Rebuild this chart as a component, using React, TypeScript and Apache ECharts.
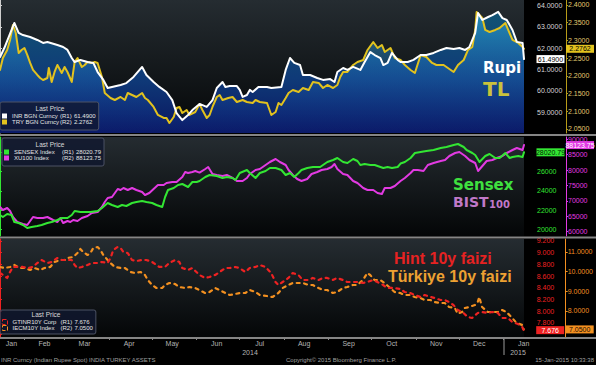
import React, { useEffect, useRef } from "react";
import * as echarts from "echarts";

// ---------- axis data ----------
const monthNames = ["Jan", "Feb", "Mar", "Apr", "May", "Jun", "Jul", "Aug", "Sep", "Oct", "Nov", "Dec", "Jan"];
// days since 15-Jan-2014
const monthLabelDays = [8, 31, 59, 90, 120, 151, 181, 212, 243, 273, 304, 334, 365];
const monthStartDays = [17, 45, 76, 106, 137, 167, 198, 229, 259, 290, 320, 351];

// ---------- panel 1 : INR / TRY ----------
const inrDays = [0,3,10,13,16,21,26,30,33,40,44,47,50,52,56,61,65,68,72,75,78,84,88,93,99,102,107,111,116,120,123,127,131,134,139,144,148,151,155,157,160,165,167,169,172,174,176,180,186,189,196,199,202,205,209,211,216,221,225,230,233,235,239,242,246,251,254,258,261,265,267,270,273,277,279,284,288,293,297,302,307,311,316,320,324,327,331,333,336,340,343,347,350,353,357,360,364,365];
const inrValues = [61.59,62.01,63.19,62.72,62.62,62.53,62.39,62.25,62.29,62.15,62.06,61.92,61.54,61.35,61.45,61.35,61.31,60.88,60.51,60.13,60.18,60.27,60.36,60.65,61.12,60.74,60.41,60.18,59.94,59.56,58.95,58.62,58.86,59.09,59.38,59.24,59.56,60.13,60.41,60.18,60.22,60.22,60.04,59.71,59.80,60.04,59.94,60.18,60.18,60.13,60.18,60.98,61.54,61.31,61.21,60.74,60.74,60.60,60.51,60.55,60.41,60.88,61.07,60.98,61.12,60.98,61.35,61.82,61.68,61.54,61.21,61.31,61.78,61.45,61.35,61.35,61.45,61.68,61.68,61.78,61.92,62.01,61.96,62.01,61.92,62.06,62.72,63.66,63.33,63.47,63.56,63.71,63.42,63.33,62.86,62.30,62.25,61.49];

const tryDays = [0,2,5,7,9,11,13,15,17,19,21,23,26,28,30,33,34,36,38,40,43,45,47,50,52,54,57,59,61,64,66,68,71,73,77,80,84,87,89,92,95,99,101,103,107,110,114,116,118,121,123,125,127,130,132,136,139,141,144,146,148,151,153,155,159,162,165,169,172,176,178,181,186,189,192,194,196,199,201,204,208,211,215,218,222,225,228,232,235,237,239,242,246,249,253,256,260,263,266,268,272,275,279,282,286,289,293,297,301,304,309,312,316,319,323,326,329,331,332,336,338,341,345,348,352,354,357,361,364,365];
const tryValues = [2.2164,2.2503,2.2729,2.3011,2.3435,2.3209,2.2644,2.2729,2.2785,2.2588,2.2362,2.2164,2.2023,2.1938,2.1881,2.1938,2.2220,2.1825,2.2107,2.2305,2.2079,2.2249,2.2107,2.1825,2.2390,2.2503,2.2249,2.2305,2.2390,2.2362,2.2390,2.2362,2.1966,2.1514,2.1373,2.1316,2.1401,2.1316,2.1514,2.1458,2.1401,2.1514,2.1373,2.1316,2.1119,2.0893,2.0808,2.0808,2.0667,2.0836,2.1090,2.1119,2.0949,2.1034,2.0893,2.0977,2.1200,2.1034,2.0808,2.0893,2.1119,2.1401,2.1458,2.1316,2.1373,2.1401,2.1260,2.1316,2.1260,2.1232,2.1316,2.1260,2.1232,2.0893,2.0977,2.1232,2.1175,2.1373,2.1514,2.1599,2.1542,2.1655,2.1599,2.1825,2.1797,2.1655,2.1740,2.1655,2.1740,2.1966,2.2107,2.2107,2.2305,2.2390,2.2446,2.2729,2.2955,2.2785,2.2870,2.2672,2.2785,2.2503,2.2446,2.2305,2.2164,2.2079,2.2588,2.2531,2.2362,2.2305,2.2305,2.2220,2.2107,2.2305,2.2446,2.2729,2.2814,2.3294,2.3802,2.3633,2.3294,2.3237,2.3294,2.3350,2.3492,2.3294,2.3011,2.2926,2.2814,2.2762];

// ---------- panel 2 : SENSEX / XU100 ----------
const sensexDays = [0,2,5,8,10,13,16,19,22,26,29,33,36,40,43,47,50,52,56,59,63,68,71,75,78,82,85,88,92,95,99,102,106,109,113,115,117,121,124,127,131,134,137,139,143,146,151,155,158,162,164,167,172,174,178,181,185,188,192,196,199,202,205,208,210,214,218,223,228,232,235,239,242,246,249,251,254,258,261,265,267,270,273,277,279,282,286,289,293,297,302,307,311,316,319,323,325,329,331,334,338,341,345,348,352,355,357,361,364,365];
const sensexValues = [21490,21281,21594,21490,20760,20656,20448,20135,20240,20344,20448,20656,20760,20969,21177,21177,21490,21906,21802,21802,21802,21906,22219,22740,22531,22323,22531,22427,22740,22844,22948,22844,22740,22531,22323,23365,24094,24302,24615,24719,24406,24927,24927,25030,25448,25656,25552,25344,25448,25344,25135,25865,26177,25865,25344,25865,26073,26385,26385,26177,25656,25865,25448,25865,26177,26385,26490,26490,27010,27219,27427,27010,26906,27323,27115,26698,26802,26698,26698,26490,26385,26490,26385,26490,26850,27010,27427,27948,28052,28156,28260,28469,28573,28781,28885,28573,28260,27948,27740,27010,27635,27844,27427,27427,27948,27427,27531,27635,27531,28020.79];

const xu100Days = [0,2,5,7,9,12,14,16,19,21,23,26,30,33,37,40,42,44,47,49,51,54,57,61,64,68,71,73,75,78,82,84,86,89,92,95,99,101,104,107,110,114,116,120,123,127,129,131,134,136,139,143,145,148,151,155,158,162,165,169,172,174,178,181,185,188,192,195,199,201,204,207,210,214,217,221,224,228,231,233,235,239,242,246,249,253,256,260,263,266,268,272,275,279,282,286,288,291,295,298,302,307,310,313,317,320,324,327,331,333,336,339,343,346,350,353,357,360,364,365];
const xu100Values = [68020,67046,67695,66721,64773,63150,62825,62500,62175,63474,64773,64448,64448,64773,63799,63150,64448,62825,63474,63150,63799,63474,64448,65098,66072,66396,68020,69643,70942,71267,73864,73540,74189,73540,74189,73540,72891,71916,72566,73864,75163,75163,75812,76137,76137,77761,79385,79060,79385,79710,79200,80359,81009,78736,78411,78087,78411,77437,76462,76462,77437,78736,80035,80359,81658,82632,83606,82632,81658,80035,78411,77112,76462,77112,78736,79385,80035,80359,81009,81983,80359,78736,78411,76462,75812,74189,73540,73540,72566,72241,74189,74189,74838,76462,77437,79060,80034,80034,79710,81658,82307,82957,83281,84580,85554,85879,84580,83281,82307,79710,81334,82957,83281,83931,84580,85554,86528,87178,86528,88123.75];

// ---------- panel 3 : 10y yields ----------
const gtinrDays = [0,2,5,7,9,13,16,20,23,26,29,33,36,40,43,47,50,52,54,57,61,64,68,71,75,77,79,82,84,86,89,92,95,99,102,106,109,111,115,118,122,125,127,131,134,139,143,146,150,153,157,160,164,167,171,174,178,181,185,187,189,192,194,197,201,204,208,211,215,218,222,225,228,232,235,239,242,246,249,253,256,260,263,267,270,274,279,282,286,289,293,296,300,303,307,310,313,316,319,323,326,329,333,336,340,343,347,350,354,357,361,364,365];
const gtinrValues = [8.653,8.619,8.568,8.670,8.756,8.756,8.756,8.738,8.756,8.824,8.875,8.824,8.841,8.909,8.875,8.875,8.875,8.790,8.738,8.756,8.790,8.824,8.824,8.841,8.824,8.909,9.046,9.097,9.080,9.012,8.995,8.875,8.858,8.875,8.875,8.841,8.790,8.756,8.756,8.824,8.875,8.841,8.738,8.704,8.738,8.620,8.568,8.585,8.619,8.670,8.738,8.738,8.756,8.738,8.670,8.738,8.756,8.790,8.756,8.704,8.653,8.499,8.448,8.499,8.568,8.653,8.619,8.533,8.533,8.568,8.533,8.568,8.568,8.533,8.568,8.533,8.499,8.499,8.499,8.482,8.499,8.533,8.499,8.448,8.397,8.397,8.380,8.328,8.311,8.277,8.243,8.277,8.243,8.226,8.191,8.191,8.157,8.106,8.021,7.970,7.901,7.884,7.970,7.986,7.970,7.986,7.970,7.884,7.884,7.816,7.781,7.730,7.676];

const iecmDays = [0,3,7,10,14,17,21,24,28,31,35,38,42,45,47,51,54,56,58,61,63,65,68,70,72,75,77,80,84,87,91,94,98,101,103,106,109,113,115,118,122,125,129,132,136,139,143,146,150,153,157,160,164,167,171,174,178,181,186,190,194,197,201,204,208,211,215,218,222,225,228,232,235,239,242,246,249,253,256,258,261,265,268,272,275,279,282,286,289,293,296,300,303,307,310,313,317,319,322,324,327,331,333,334,336,340,343,347,350,353,357,360,364,365];
const iecmValues = [10.235,10.184,10.235,10.337,10.184,10.184,10.082,10.184,10.082,10.184,10.235,10.490,10.592,10.592,10.694,10.745,10.949,11.153,11.000,10.847,10.949,11.204,11.255,11.102,10.847,10.592,10.439,10.235,10.184,10.184,9.980,9.929,9.980,9.827,9.571,9.316,9.163,9.163,9.316,9.418,9.367,9.214,9.163,9.214,9.163,9.060,8.908,8.959,9.163,9.061,8.908,8.806,8.857,8.908,8.908,9.061,8.959,8.806,8.755,8.704,8.908,9.163,9.316,9.418,9.418,9.418,9.316,9.316,9.163,9.061,9.061,8.908,8.959,9.163,9.214,9.316,9.316,9.571,9.929,9.827,9.571,9.571,9.418,9.163,8.959,8.908,8.806,8.806,8.704,8.653,8.551,8.551,8.449,8.398,8.398,8.194,8.143,7.850,7.939,8.143,8.194,8.296,8.449,8.704,8.194,7.939,7.939,7.939,8.041,7.939,7.633,7.378,7.276,7.050];

// ---------- ticks / legend text ----------
const inrTicks = [59, 60, 61, 62, 63, 64];
const tryTicks = [2.05, 2.1, 2.15, 2.2, 2.25, 2.3, 2.35, 2.4];
const sensexTicks = [20000, 22000, 24000, 26000, 28000];
const sensexLabels = [20000, 22000, 24000, 26000];
const xu100Ticks = [60000, 65000, 70000, 75000, 80000, 85000, 90000];
const gtinrTicks = [7.6, 7.8, 8.0, 8.2, 8.4, 8.6, 8.8, 9.0, 9.2];
const gtinrLabels = [7.8, 8.0, 8.2, 8.4, 8.6, 8.8, 9.0, 9.2];
const iecmTicks = [7, 8, 9, 10, 11];
const iecmLabels = [8, 9, 10, 11];

const seriesNames = ["INR BGN Curncy", "TRY BGN Curncy", "SENSEX Index", "XU100 Index", "GTINR10Y Corp", "IECM10Y Index"];
const seriesAxes = ["(R1)", "(R2)", "(R1)", "(R2)", "(R1)", "(R2)"];
const lastPrices = ["61.4900", "2.2762", "28020.79", "88123.75", "7.676", "7.0500"];

const FONT = "'Liberation Sans', Arial, sans-serif";

const pairs = (d: number[], v: number[]) => d.map((x, i) => [x, v[i]]);

const C = {
  inr: "#ffffff",
  try: "#e2c21e",
  sensex: "#33e633",
  xu: "#e23ae2",
  gtinr: "#ee2222",
  iecm: "#f39020",
};

function yAx(gridIndex: number, min: number, max: number, offset: number, lineColor: string, labelColor: string, ticks: number[], labels: number[], digits: number) {
  return {
    type: "value",
    gridIndex,
    position: "right",
    offset,
    min,
    max,
    axisLine: { show: true, lineStyle: { color: lineColor, width: 1 } },
    axisTick: { show: true, customValues: ticks, length: 2, inside: false, lineStyle: { color: lineColor } },
    axisLabel: {
      show: true,
      customValues: labels,
      formatter: (v: number) => Number(v).toFixed(digits),
      color: labelColor,
      fontSize: 7,
      margin: 2,
      fontFamily: FONT,
    },
    splitLine: { show: false },
  };
}

function xAx(gridIndex: number, bottom: boolean) {
  return {
    type: "value",
    gridIndex,
    min: 0,
    max: 365,
    show: bottom,
    axisLine: { show: false },
    axisTick: { show: bottom, customValues: monthStartDays, length: 3, lineStyle: { color: "#8a8a8a" } },
    axisLabel: {
      show: bottom,
      customValues: monthLabelDays,
      formatter: (v: number) => monthNames[monthLabelDays.indexOf(v)] ?? "",
      color: "#b4b4b4",
      fontSize: 7,
      margin: 3,
      fontFamily: FONT,
    },
    splitLine: { show: false },
  };
}

function lineSeries(idx: number, xi: number, yi: number, data: number[][], color: string, dashed: boolean, boxText: string, boxOffset: number) {
  const last = data[data.length - 1];
  return {
    name: seriesNames[idx],
    type: "line",
    xAxisIndex: xi,
    yAxisIndex: yi,
    data,
    showSymbol: false,
    symbol: "none",
    color,
    z: 3,
    lineStyle: dashed
      ? { color, width: 2.2, type: [3, 4.5], cap: "round", join: "round" }
      : { color, width: 2, cap: "round", join: "round" },
    markPoint: {
      symbol: "rect",
      symbolSize: [28, 8],
      symbolOffset: [boxOffset, 0],
      silent: true,
      itemStyle: { color },
      label: {
        show: true,
        position: "inside",
        formatter: lastPrices[idx],
        color: boxText,
        fontSize: 7,
        fontFamily: FONT,
      },
      data: [{ coord: [last[0], last[1]] }],
    },
  };
}

function legend(names: string[], left: number, top: number, dashed: boolean, colors: string[], padding: number[]) {
  return {
    show: true,
    orient: "vertical",
    left,
    top,
    icon: "rect",
    itemWidth: 5,
    itemHeight: 5,
    itemGap: 0,
    padding,
    selectedMode: false,
    backgroundColor: "rgba(16,24,48,0.8)",
    borderColor: "#4c5264",
    borderWidth: 1,
    borderRadius: 2,
    data: names.map((n, i) => ({
      name: n,
      itemStyle: dashed
        ? { color: "rgba(0,0,0,0)", borderColor: colors[i], borderWidth: 1, borderType: "dashed" }
        : { color: colors[i] },
    })),
    formatter: (name: string) => {
      const i = seriesNames.indexOf(name);
      return `{n|${name}}{r|${seriesAxes[i]}}{v|${lastPrices[i]}}`;
    },
    textStyle: {
      color: "#e4e4e4",
      fontSize: 6,
      fontFamily: FONT,
      rich: {
        n: { width: 48, color: "#e4e4e4", fontSize: 6, fontFamily: FONT, lineHeight: 7 },
        r: { width: 14, color: "#e4e4e4", fontSize: 6, fontFamily: FONT, lineHeight: 7 },
        v: { color: "#e4e4e4", fontSize: 6, fontFamily: FONT, lineHeight: 7 },
      },
    },
  };
}

const bgGrad = () =>
  new echarts.graphic.LinearGradient(0, 0, 0, 1, [
    { offset: 0, color: "#252c31" },
    { offset: 1, color: "#040607" },
  ]);

export default function App() {
  const ref = useRef<HTMLDivElement>(null);
  useEffect(() => {
    if (!ref.current) return;
    const chart = echarts.init(ref.current, undefined, { renderer: "svg" });

    const inrData = pairs(inrDays, inrValues);
    const tryData = pairs(tryDays, tryValues);

    const option: any = {
      animation: false,
      backgroundColor: "#000000",
      grid: [
        { left: 0, right: 72, top: 0, height: 133 },
        { left: 0, right: 72, top: 137, height: 99 },
        { left: 0, right: 72, top: 239, height: 98 },
      ],
      xAxis: [xAx(0, false), xAx(1, false), xAx(2, true)],
      yAxis: [
        yAx(0, 58.012, 64.27, 11, "#cfcfcf", "#d6d6d6", inrTicks, inrTicks, 4),
        yAx(0, 2.0384, 2.414, 42, "#b89c18", "#e0cc70", tryTicks, tryTicks, 4),
        yAx(1, 19302, 29615, 11, C.sensex, C.sensex, sensexTicks, sensexLabels, 0),
        yAx(1, 58604, 90747, 42, C.xu, C.xu, xu100Ticks, xu100Ticks, 0),
        yAx(2, 7.559, 9.234, 11, C.gtinr, C.gtinr, gtinrTicks, gtinrLabels, 3),
        yAx(2, 6.663, 11.663, 42, C.iecm, C.iecm, iecmTicks, iecmLabels, 4),
      ],
      legend: [
        legend([seriesNames[0], seriesNames[1]], 0, 102, false, [C.inr, C.try], [11, 3, 5, 2]),
        legend([seriesNames[2], seriesNames[3]], 2, 138, false, [C.sensex, C.xu], [11, 3, 5, 2]),
        legend([seriesNames[4], seriesNames[5]], 0, 310, true, [C.gtinr, C.iecm], [9, 3, 3, 2]),
      ],
      series: [
        {
          name: "inrArea",
          type: "line",
          xAxisIndex: 0,
          yAxisIndex: 0,
          data: inrData,
          showSymbol: false,
          symbol: "none",
          silent: true,
          z: 1,
          lineStyle: { width: 0, opacity: 0 },
          areaStyle: {
            opacity: 1,
            color: new echarts.graphic.LinearGradient(0, 0, 0, 1, [
              { offset: 0, color: "#125474" },
              { offset: 0.55, color: "#0f3a78" },
              { offset: 1, color: "#0a1660" },
            ]),
          },
        },
        {
          name: "tryArea",
          type: "line",
          xAxisIndex: 0,
          yAxisIndex: 1,
          data: tryData,
          showSymbol: false,
          symbol: "none",
          silent: true,
          z: 1,
          lineStyle: { width: 0, opacity: 0 },
          areaStyle: {
            opacity: 1,
            color: new echarts.graphic.LinearGradient(0, 0, 0, 1, [
              { offset: 0, color: "rgba(48,180,228,0.6)" },
              { offset: 1, color: "rgba(20,60,170,0.12)" },
            ]),
          },
        },
        lineSeries(1, 0, 1, tryData, C.try, false, "#000000", 56),
        lineSeries(0, 0, 0, inrData, C.inr, false, "#000000", 26.5),
        lineSeries(3, 1, 3, pairs(xu100Days, xu100Values), C.xu, false, "#ffffff", 56),
        lineSeries(2, 1, 2, pairs(sensexDays, sensexValues), C.sensex, false, "#002200", 26.5),
        lineSeries(5, 2, 5, pairs(iecmDays, iecmValues), C.iecm, true, "#1a0a00", 56),
        lineSeries(4, 2, 4, pairs(gtinrDays, gtinrValues), C.gtinr, true, "#ffffff", 26.5),
      ],
      graphic: [
        // panel backgrounds
        { type: "rect", silent: true, z: 0, shape: { x: 0, y: 0, width: 524, height: 133 }, style: { fill: bgGrad() } },
        { type: "rect", silent: true, z: 0, shape: { x: 0, y: 137, width: 524, height: 99 }, style: { fill: bgGrad() } },
        { type: "rect", silent: true, z: 0, shape: { x: 0, y: 239, width: 524, height: 98 }, style: { fill: bgGrad() } },
        // separators
        { type: "rect", silent: true, z: 5, shape: { x: 0, y: 134, width: 596, height: 2 }, style: { fill: "#858585" } },
        { type: "rect", silent: true, z: 5, shape: { x: 0, y: 236.5, width: 596, height: 2 }, style: { fill: "#858585" } },
        { type: "rect", silent: true, z: 5, shape: { x: 0, y: 337, width: 596, height: 2 }, style: { fill: "#858585" } },
        // legend titles
        { type: "text", z: 10, x: 50, y: 108.5, style: { text: "Last Price", fill: "#dcdcdc", fontSize: 6.5, fontFamily: FONT, align: "center", verticalAlign: "middle" } },
        { type: "text", z: 10, x: 50, y: 144.5, style: { text: "Last Price", fill: "#dcdcdc", fontSize: 6.5, fontFamily: FONT, align: "center", verticalAlign: "middle" } },
        { type: "text", z: 10, x: 46, y: 314.5, style: { text: "Last Price", fill: "#dcdcdc", fontSize: 6.5, fontFamily: FONT, align: "center", verticalAlign: "middle" } },
        // annotations
        { type: "text", z: 10, x: 483, y: 60, style: { text: "Rupi", fill: "#ffffff", fontSize: 15, fontWeight: "bold", fontFamily: "'DejaVu Sans'", align: "left", verticalAlign: "top" } },
        { type: "text", z: 10, x: 483, y: 79, style: { text: "TL", fill: "#c9c23c", fontSize: 20, fontWeight: "bold", fontFamily: "'DejaVu Sans'", align: "left", verticalAlign: "top" } },
        { type: "text", z: 10, x: 453, y: 177, style: { text: "Sensex", fill: "#3fe03f", fontSize: 15, fontWeight: "bold", fontFamily: "'DejaVu Sans'", align: "left", verticalAlign: "top" } },
        { type: "text", z: 10, x: 453, y: 195, style: { text: "BIST", fill: "#c078c8", fontSize: 14, fontWeight: "bold", fontFamily: "'DejaVu Sans'", align: "left", verticalAlign: "top" } },
        { type: "text", z: 10, x: 489, y: 199.5, style: { text: "100", fill: "#c078c8", fontSize: 10, fontWeight: "bold", fontFamily: "'DejaVu Sans'", align: "left", verticalAlign: "top" } },
        { type: "text", z: 10, x: 394, y: 250, style: { text: "Hint 10y faizi", fill: "#e62222", fontSize: 16, fontWeight: "bold", fontFamily: FONT, align: "left", verticalAlign: "top" } },
        { type: "text", z: 10, x: 388, y: 268, style: { text: "Türkiye 10y faizi", fill: "#eda132", fontSize: 16, fontWeight: "bold", fontFamily: FONT, align: "left", verticalAlign: "top" } },
        // year marks
        { type: "text", z: 10, x: 250, y: 352, style: { text: "2014", fill: "#b4b4b4", fontSize: 7, fontFamily: FONT, align: "center", verticalAlign: "middle" } },
        { type: "text", z: 10, x: 518, y: 352, style: { text: "2015", fill: "#b4b4b4", fontSize: 7, fontFamily: FONT, align: "center", verticalAlign: "middle" } },
        { type: "line", z: 10, silent: true, shape: { x1: 504, y1: 339, x2: 504, y2: 355 }, style: { stroke: "#9a9a9a", lineWidth: 1 } },
        // footer
        { type: "text", z: 10, x: 1, y: 359.5, style: { text: "INR Curncy (Indian Rupee Spot) INDIA TURKEY ASSETS", fill: "#a0a0a0", fontSize: 6, fontFamily: FONT, align: "left", verticalAlign: "middle" } },
        { type: "text", z: 10, x: 286, y: 359.5, style: { text: "Copyright© 2015 Bloomberg Finance L.P.", fill: "#a0a0a0", fontSize: 6, fontFamily: FONT, align: "left", verticalAlign: "middle" } },
        { type: "text", z: 10, x: 594, y: 359.5, style: { text: "15-Jan-2015 10:33:38", fill: "#a0a0a0", fontSize: 6, fontFamily: FONT, align: "right", verticalAlign: "middle" } },
      ],
    };

    chart.setOption(option);
    return () => chart.dispose();
  }, []);

  return <div ref={ref} style={{ position: "absolute", left: 0, top: 0, width: 596, height: 365 }} />;
}
